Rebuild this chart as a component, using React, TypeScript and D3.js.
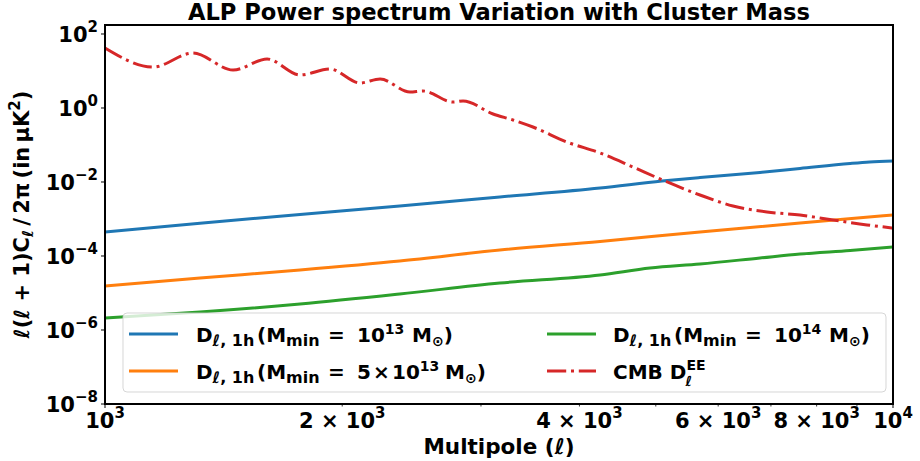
import React from "react";
import * as d3 from "d3";

// ---- data ----
const ellBlue = [1000, 1320, 1768, 2366, 3170, 4249, 5090, 5689, 6780, 7621, 8823, 9340, 10000];
const valBlue = [4.46e-4, 7.69e-4, 1.32e-3, 2.24e-3, 3.94e-3, 6.89e-3, 1.06e-2, 1.32e-2, 1.81e-2, 2.32e-2, 3.16e-2, 3.47e-2, 3.7e-2];

const ellOrange = [1000, 1320, 1768, 2366, 3170, 4249, 5689, 7621, 10000];
const valOrange = [1.55e-5, 2.54e-5, 4.19e-5, 7.33e-5, 1.45e-4, 2.47e-4, 4.46e-4, 7.8e-4, 1.28e-3];

const ellGreen = [1000, 1320, 1768, 2366, 3170, 4249, 4916, 5689, 6780, 7621, 8823, 10000];
const valGreen = [2.11e-6, 3.06e-6, 5.05e-6, 9.4e-6, 1.86e-5, 3.06e-5, 4.74e-5, 6.08e-5, 8.83e-5, 1.13e-4, 1.41e-4, 1.75e-4];

const ellCMB = [1000, 1151, 1293, 1454, 1606, 1768, 1930, 2107, 2234, 2438, 2533, 2765, 2847, 3108, 3294, 3492, 3858, 4249, 4677, 5062, 5689, 6266, 6918, 7621, 8395, 9268, 10000];
const valCMB = [41.9, 12.8, 30.6, 10.6, 21.1, 7.8, 11.3, 4.74, 6.08, 2.7, 2.88, 1.45, 1.55, 0.689, 0.474, 0.306, 0.12, 0.0608, 0.0254, 0.0121, 4.46e-3, 2.24e-3, 1.55e-3, 1.28e-3, 9.4e-4, 6.9e-4, 5.7e-4];

const yTickExps = [-8, -6, -4, -2, 0, 2];
const xMajor = [1000, 10000];
const xMinor = [2000, 3000, 4000, 5000, 6000, 7000, 8000, 9000];
const xMinorLabeled = [2000, 4000, 6000, 8000];

const titleText = "ALP Power spectrum Variation with Cluster Mass";
const xLabelText = "Multipole (ℓ)";

const FONT = "DejaVu Sans";
const C = { blue: "#1f77b4", orange: "#ff7f0e", green: "#2ca02c", red: "#d62728" };
const DASHDOT = "19.2,4.8,3,4.8";

const L = 105, R = 893, T = 25, B = 404;

export default function App() {
  const x = d3.scaleLog().domain([1000, 10000]).range([L, R]);
  const y = d3.scaleLog().domain([1e-8, Math.pow(10, 2.243)]).range([B, T]);

  const mk = (ells: number[], vals: number[]) =>
    d3.line<number>()
      .x((_, i) => x(ells[i]))
      .y((v) => y(v))
      .curve(d3.curveMonotoneX)(vals) as string;

  const series = [
    { d: mk(ellBlue, valBlue), color: C.blue, dash: undefined },
    { d: mk(ellOrange, valOrange), color: C.orange, dash: undefined },
    { d: mk(ellGreen, valGreen), color: C.green, dash: undefined },
    { d: mk(ellCMB, valCMB), color: C.red, dash: DASHDOT },
  ];

  const fs = 21;
  const sfs = 15;

  const legendRow1 = 334, legendRow2 = 371;
  const hx1 = 129, hx2 = 547, tx1 = 196, tx2 = 613;

  const DLabel = (tx: number, ty: number, five: boolean, exp: string) => (
    <text x={tx} y={ty + 8} fontFamily={FONT} fontWeight="bold" fontSize={20}>
      <tspan>D</tspan>
      <tspan fontSize={16} dy={4} fontStyle="italic">ℓ</tspan>
      <tspan fontSize={16}>, 1h</tspan>
      <tspan x={tx + 61} dy={-4}>(M</tspan>
      <tspan fontSize={16} dy={4}>min</tspan>
      <tspan x={tx + 132} dy={-4}>=</tspan>
      {five ? (
        <>
          <tspan x={tx + 161}>5</tspan>
          <tspan x={tx + 177}>×</tspan>
          <tspan x={tx + 196}>10</tspan>
        </>
      ) : (
        <tspan x={tx + 161}>10</tspan>
      )}
      <tspan fontSize={14} dy={-8}>{exp}</tspan>
      <tspan x={tx + (five ? 249 : 216)} dy={8}>M</tspan>
      <tspan fontSize={14} dy={4}>⊙</tspan>
      <tspan dy={-4}>)</tspan>
    </text>
  );

  return (
    <svg width={920} height={461} style={{ position: "absolute", left: 0, top: 0, background: "#fff" }}>
      <defs>
        <clipPath id="plotclip">
          <rect x={L} y={T} width={R - L} height={B - T} />
        </clipPath>
      </defs>
      <rect x={0} y={0} width={920} height={461} fill="#fff" />

      {/* title */}
      <text x={(L + R) / 2} y={20} textAnchor="middle" fontFamily={FONT} fontWeight="bold" fontSize={22.6}>
        {titleText}
      </text>

      {/* series */}
      <g clipPath="url(#plotclip)">
        {series.map((s, i) => (
          <path key={i} d={s.d} fill="none" stroke={s.color} strokeWidth={3} strokeDasharray={s.dash} />
        ))}
      </g>

      {/* legend */}
      <g>
        <rect x={123} y={313} width={763} height={79} rx={4} fill="#fff" fillOpacity={0.8} stroke="#cccccc" strokeOpacity={0.8} strokeWidth={1} />
        <line x1={hx1} x2={hx1 + 49} y1={legendRow1} y2={legendRow1} stroke={C.blue} strokeWidth={3} />
        <line x1={hx1} x2={hx1 + 49} y1={legendRow2} y2={legendRow2} stroke={C.orange} strokeWidth={3} />
        <line x1={hx2} x2={hx2 + 49} y1={legendRow1} y2={legendRow1} stroke={C.green} strokeWidth={3} />
        <line x1={hx2} x2={hx2 + 49} y1={legendRow2} y2={legendRow2} stroke={C.red} strokeWidth={3} strokeDasharray={DASHDOT} />
        {DLabel(tx1, legendRow1, false, "13")}
        {DLabel(tx1, legendRow2, true, "13")}
        {DLabel(tx2, legendRow1, false, "14")}
        <text x={tx2} y={legendRow2 + 8} fontFamily={FONT} fontWeight="bold" fontSize={20}>
          <tspan>CMB D</tspan>
          <tspan fontSize={14} dy={-9}>EE</tspan>
          <tspan fontSize={14} dx={-20} dy={16} fontStyle="italic">ℓ</tspan>
        </text>
      </g>

      {/* spines */}
      <rect x={L} y={T} width={R - L} height={B - T} fill="none" stroke="#000" strokeWidth={2} />

      {/* y ticks */}
      {yTickExps.map((e) => {
        const yy = y(Math.pow(10, e));
        return (
          <g key={e}>
            <line x1={L - 4} x2={L} y1={yy} y2={yy} stroke="#000" strokeWidth={1} />
            <text x={L - 7} y={yy + 8} textAnchor="end" fontFamily={FONT} fontWeight="bold" fontSize={fs}>
              <tspan>10</tspan>
              <tspan fontSize={sfs} dy={-10}>{e < 0 ? "\u2212" + Math.abs(e) : String(e)}</tspan>
            </text>
          </g>
        );
      })}

      {/* x ticks */}
      {xMajor.map((v) => (
        <g key={v}>
          <line x1={x(v)} x2={x(v)} y1={B} y2={B + 4} stroke="#000" strokeWidth={1} />
          <text x={x(v)} y={427.5} textAnchor="middle" fontFamily={FONT} fontWeight="bold" fontSize={fs}>
            <tspan>10</tspan>
            <tspan fontSize={sfs} dy={-10}>{String(Math.round(Math.log10(v)))}</tspan>
          </text>
        </g>
      ))}
      {xMinor.map((v) => (
        <line key={v} x1={x(v)} x2={x(v)} y1={B} y2={B + 2.5} stroke="#000" strokeWidth={0.8} />
      ))}
      {xMinorLabeled.map((v) => (
        <text key={"l" + v} x={x(v)} y={427.5} textAnchor="middle" fontFamily={FONT} fontWeight="bold" fontSize={fs}>
          <tspan>{v / 1000 + " × 10"}</tspan>
          <tspan fontSize={sfs} dy={-10}>3</tspan>
        </text>
      ))}

      {/* x label */}
      <text x={(L + R) / 2} y={454} textAnchor="middle" fontFamily={FONT} fontWeight="bold" fontSize={21.5}>
        {xLabelText}
      </text>

      {/* y label */}
      <text transform={`translate(29, ${(T + B) / 2}) rotate(-90)`} textAnchor="middle" fontFamily={FONT} fontWeight="bold" fontSize={fs}>
        <tspan fontStyle="italic">ℓ</tspan>
        <tspan>(</tspan>
        <tspan fontStyle="italic">ℓ</tspan>
        <tspan>{" + 1)C"}</tspan>
        <tspan fontSize={sfs} dy={4} fontStyle="italic">ℓ</tspan>
        <tspan dy={-4}>{"\u2009/\u20092π\u2009(in\u2009μK"}</tspan>
        <tspan fontSize={sfs} dy={-9}>2</tspan>
        <tspan dy={9}>)</tspan>
      </text>
    </svg>
  );
}
